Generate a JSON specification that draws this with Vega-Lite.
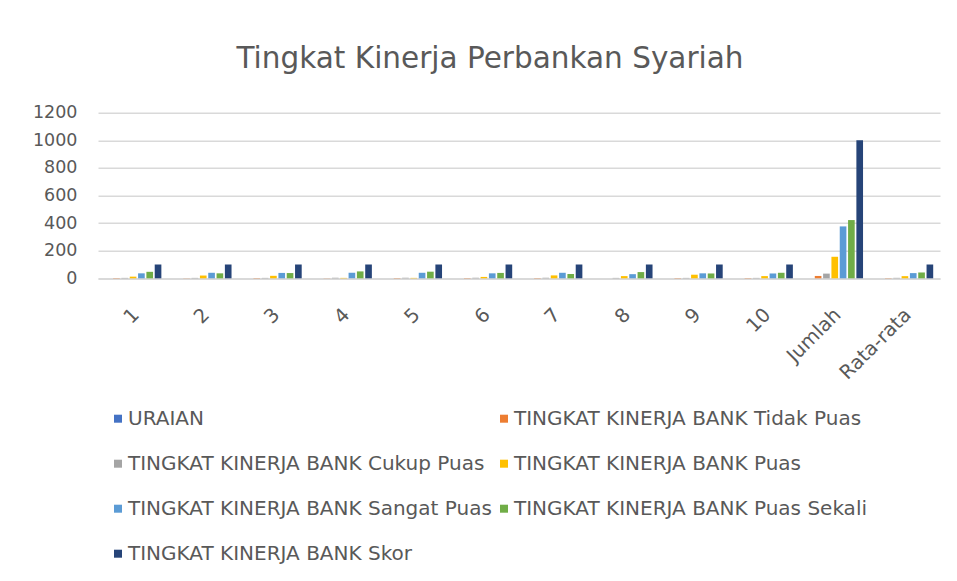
{
  "$schema": "https://vega.github.io/schema/vega-lite/v6.json",
  "width": 842,
  "height": 165.6,
  "autosize": {"type": "none"},
  "padding": {"left": 98, "top": 112.7, "right": 17, "bottom": 302.7},
  "background": "white",
  "title": {
    "text": "Tingkat Kinerja Perbankan Syariah",
    "anchor": "middle",
    "dx": -29,
    "offset": 29,
    "font": "DejaVu Sans",
    "fontSize": 29.5,
    "fontWeight": "normal",
    "color": "#595959"
  },
  "data": {
    "values": [
      {"kategori": "1", "seri": "URAIAN", "nilai": 0},
      {"kategori": "1", "seri": "TINGKAT KINERJA BANK Tidak Puas", "nilai": 2},
      {"kategori": "1", "seri": "TINGKAT KINERJA BANK Cukup Puas", "nilai": 3},
      {"kategori": "1", "seri": "TINGKAT KINERJA BANK Puas", "nilai": 12},
      {"kategori": "1", "seri": "TINGKAT KINERJA BANK Sangat Puas", "nilai": 36},
      {"kategori": "1", "seri": "TINGKAT KINERJA BANK Puas Sekali", "nilai": 47},
      {"kategori": "1", "seri": "TINGKAT KINERJA BANK Skor", "nilai": 100},
      {"kategori": "2", "seri": "URAIAN", "nilai": 0},
      {"kategori": "2", "seri": "TINGKAT KINERJA BANK Tidak Puas", "nilai": 1},
      {"kategori": "2", "seri": "TINGKAT KINERJA BANK Cukup Puas", "nilai": 3},
      {"kategori": "2", "seri": "TINGKAT KINERJA BANK Puas", "nilai": 20},
      {"kategori": "2", "seri": "TINGKAT KINERJA BANK Sangat Puas", "nilai": 40},
      {"kategori": "2", "seri": "TINGKAT KINERJA BANK Puas Sekali", "nilai": 36},
      {"kategori": "2", "seri": "TINGKAT KINERJA BANK Skor", "nilai": 100},
      {"kategori": "3", "seri": "URAIAN", "nilai": 0},
      {"kategori": "3", "seri": "TINGKAT KINERJA BANK Tidak Puas", "nilai": 2},
      {"kategori": "3", "seri": "TINGKAT KINERJA BANK Cukup Puas", "nilai": 3},
      {"kategori": "3", "seri": "TINGKAT KINERJA BANK Puas", "nilai": 18},
      {"kategori": "3", "seri": "TINGKAT KINERJA BANK Sangat Puas", "nilai": 39},
      {"kategori": "3", "seri": "TINGKAT KINERJA BANK Puas Sekali", "nilai": 38},
      {"kategori": "3", "seri": "TINGKAT KINERJA BANK Skor", "nilai": 100},
      {"kategori": "4", "seri": "URAIAN", "nilai": 0},
      {"kategori": "4", "seri": "TINGKAT KINERJA BANK Tidak Puas", "nilai": 1},
      {"kategori": "4", "seri": "TINGKAT KINERJA BANK Cukup Puas", "nilai": 4},
      {"kategori": "4", "seri": "TINGKAT KINERJA BANK Puas", "nilai": 3},
      {"kategori": "4", "seri": "TINGKAT KINERJA BANK Sangat Puas", "nilai": 40},
      {"kategori": "4", "seri": "TINGKAT KINERJA BANK Puas Sekali", "nilai": 50},
      {"kategori": "4", "seri": "TINGKAT KINERJA BANK Skor", "nilai": 100},
      {"kategori": "5", "seri": "URAIAN", "nilai": 0},
      {"kategori": "5", "seri": "TINGKAT KINERJA BANK Tidak Puas", "nilai": 2},
      {"kategori": "5", "seri": "TINGKAT KINERJA BANK Cukup Puas", "nilai": 4},
      {"kategori": "5", "seri": "TINGKAT KINERJA BANK Puas", "nilai": 3},
      {"kategori": "5", "seri": "TINGKAT KINERJA BANK Sangat Puas", "nilai": 40},
      {"kategori": "5", "seri": "TINGKAT KINERJA BANK Puas Sekali", "nilai": 48},
      {"kategori": "5", "seri": "TINGKAT KINERJA BANK Skor", "nilai": 100},
      {"kategori": "6", "seri": "URAIAN", "nilai": 0},
      {"kategori": "6", "seri": "TINGKAT KINERJA BANK Tidak Puas", "nilai": 2},
      {"kategori": "6", "seri": "TINGKAT KINERJA BANK Cukup Puas", "nilai": 4},
      {"kategori": "6", "seri": "TINGKAT KINERJA BANK Puas", "nilai": 10},
      {"kategori": "6", "seri": "TINGKAT KINERJA BANK Sangat Puas", "nilai": 36},
      {"kategori": "6", "seri": "TINGKAT KINERJA BANK Puas Sekali", "nilai": 39},
      {"kategori": "6", "seri": "TINGKAT KINERJA BANK Skor", "nilai": 100},
      {"kategori": "7", "seri": "URAIAN", "nilai": 0},
      {"kategori": "7", "seri": "TINGKAT KINERJA BANK Tidak Puas", "nilai": 2},
      {"kategori": "7", "seri": "TINGKAT KINERJA BANK Cukup Puas", "nilai": 4},
      {"kategori": "7", "seri": "TINGKAT KINERJA BANK Puas", "nilai": 21},
      {"kategori": "7", "seri": "TINGKAT KINERJA BANK Sangat Puas", "nilai": 40},
      {"kategori": "7", "seri": "TINGKAT KINERJA BANK Puas Sekali", "nilai": 31},
      {"kategori": "7", "seri": "TINGKAT KINERJA BANK Skor", "nilai": 100},
      {"kategori": "8", "seri": "URAIAN", "nilai": 0},
      {"kategori": "8", "seri": "TINGKAT KINERJA BANK Tidak Puas", "nilai": 1},
      {"kategori": "8", "seri": "TINGKAT KINERJA BANK Cukup Puas", "nilai": 3},
      {"kategori": "8", "seri": "TINGKAT KINERJA BANK Puas", "nilai": 16},
      {"kategori": "8", "seri": "TINGKAT KINERJA BANK Sangat Puas", "nilai": 30},
      {"kategori": "8", "seri": "TINGKAT KINERJA BANK Puas Sekali", "nilai": 45},
      {"kategori": "8", "seri": "TINGKAT KINERJA BANK Skor", "nilai": 100},
      {"kategori": "9", "seri": "URAIAN", "nilai": 0},
      {"kategori": "9", "seri": "TINGKAT KINERJA BANK Tidak Puas", "nilai": 2},
      {"kategori": "9", "seri": "TINGKAT KINERJA BANK Cukup Puas", "nilai": 3},
      {"kategori": "9", "seri": "TINGKAT KINERJA BANK Puas", "nilai": 26},
      {"kategori": "9", "seri": "TINGKAT KINERJA BANK Sangat Puas", "nilai": 36},
      {"kategori": "9", "seri": "TINGKAT KINERJA BANK Puas Sekali", "nilai": 35},
      {"kategori": "9", "seri": "TINGKAT KINERJA BANK Skor", "nilai": 100},
      {"kategori": "10", "seri": "URAIAN", "nilai": 0},
      {"kategori": "10", "seri": "TINGKAT KINERJA BANK Tidak Puas", "nilai": 2},
      {"kategori": "10", "seri": "TINGKAT KINERJA BANK Cukup Puas", "nilai": 3},
      {"kategori": "10", "seri": "TINGKAT KINERJA BANK Puas", "nilai": 16},
      {"kategori": "10", "seri": "TINGKAT KINERJA BANK Sangat Puas", "nilai": 35},
      {"kategori": "10", "seri": "TINGKAT KINERJA BANK Puas Sekali", "nilai": 40},
      {"kategori": "10", "seri": "TINGKAT KINERJA BANK Skor", "nilai": 100},
      {"kategori": "Jumlah", "seri": "URAIAN", "nilai": 0},
      {"kategori": "Jumlah", "seri": "TINGKAT KINERJA BANK Tidak Puas", "nilai": 17},
      {"kategori": "Jumlah", "seri": "TINGKAT KINERJA BANK Cukup Puas", "nilai": 34},
      {"kategori": "Jumlah", "seri": "TINGKAT KINERJA BANK Puas", "nilai": 156},
      {"kategori": "Jumlah", "seri": "TINGKAT KINERJA BANK Sangat Puas", "nilai": 376},
      {"kategori": "Jumlah", "seri": "TINGKAT KINERJA BANK Puas Sekali", "nilai": 422},
      {"kategori": "Jumlah", "seri": "TINGKAT KINERJA BANK Skor", "nilai": 1000},
      {"kategori": "Rata-rata", "seri": "URAIAN", "nilai": 0},
      {"kategori": "Rata-rata", "seri": "TINGKAT KINERJA BANK Tidak Puas", "nilai": 1.7},
      {"kategori": "Rata-rata", "seri": "TINGKAT KINERJA BANK Cukup Puas", "nilai": 3.4},
      {"kategori": "Rata-rata", "seri": "TINGKAT KINERJA BANK Puas", "nilai": 15.6},
      {"kategori": "Rata-rata", "seri": "TINGKAT KINERJA BANK Sangat Puas", "nilai": 37.6},
      {"kategori": "Rata-rata", "seri": "TINGKAT KINERJA BANK Puas Sekali", "nilai": 42.2},
      {"kategori": "Rata-rata", "seri": "TINGKAT KINERJA BANK Skor", "nilai": 100}
    ]
  },
  "mark": {"type": "bar", "cornerRadius": 0},
  "encoding": {
    "x": {
      "field": "kategori",
      "type": "nominal",
      "sort": null,
      "scale": {"domain": ["1","2","3","4","5","6","7","8","9","10","Jumlah","Rata-rata"], "paddingInner": 0.17, "paddingOuter": 0.085},
      "axis": {
        "title": null,
        "labelAngle": -45,
        "labelAlign": "right",
        "labelBaseline": "middle",
        "labelPadding": 33,
        "labelOffset": 3,
        "ticks": false,
        "domainColor": "#D9D9D9",
        "domainWidth": 1.5,
        "labelFont": "DejaVu Sans",
        "labelFontSize": 19.5,
        "labelColor": "#595959"
      }
    },
    "xOffset": {
      "field": "seri",
      "type": "nominal",
      "sort": null,
      "scale": {
        "domain": ["URAIAN", "TINGKAT KINERJA BANK Tidak Puas", "TINGKAT KINERJA BANK Cukup Puas", "TINGKAT KINERJA BANK Puas", "TINGKAT KINERJA BANK Sangat Puas", "TINGKAT KINERJA BANK Puas Sekali", "TINGKAT KINERJA BANK Skor"],
        "paddingInner": 0.2,
        "paddingOuter": 0.1
      }
    },
    "y": {
      "field": "nilai",
      "type": "quantitative",
      "scale": {"domain": [0, 1200], "nice": false},
      "axis": {
        "title": null,
        "values": [0, 200, 400, 600, 800, 1000, 1200],
        "format": "d",
        "domain": false,
        "ticks": false,
        "gridColor": "#D9D9D9",
        "gridWidth": 1.5,
        "labelPadding": 21,
        "labelFont": "DejaVu Sans",
        "labelFontSize": 17.5,
        "labelColor": "#595959"
      }
    },
    "color": {
      "field": "seri",
      "type": "nominal",
      "sort": null,
      "scale": {
        "domain": ["URAIAN", "TINGKAT KINERJA BANK Tidak Puas", "TINGKAT KINERJA BANK Cukup Puas", "TINGKAT KINERJA BANK Puas", "TINGKAT KINERJA BANK Sangat Puas", "TINGKAT KINERJA BANK Puas Sekali", "TINGKAT KINERJA BANK Skor"],
        "range": ["#4472C4", "#ED7D31", "#A5A5A5", "#FFC000", "#5B9BD5", "#70AD47", "#264478"]
      },
      "legend": {
        "title": null,
        "orient": "none",
        "legendX": 10,
        "legendY": 296,
        "direction": "horizontal",
        "columns": 2,
        "columnPadding": 2,
        "rowPadding": 25,
        "symbolType": "square",
        "symbolSize": 64,
        "symbolStrokeWidth": 0,
        "labelOffset": 0,
        "labelFont": "DejaVu Sans",
        "labelFontSize": 20,
        "labelColor": "#595959",
        "labelLimit": 0
      }
    }
  },
  "config": {
    "view": {"stroke": null}
  }
}
